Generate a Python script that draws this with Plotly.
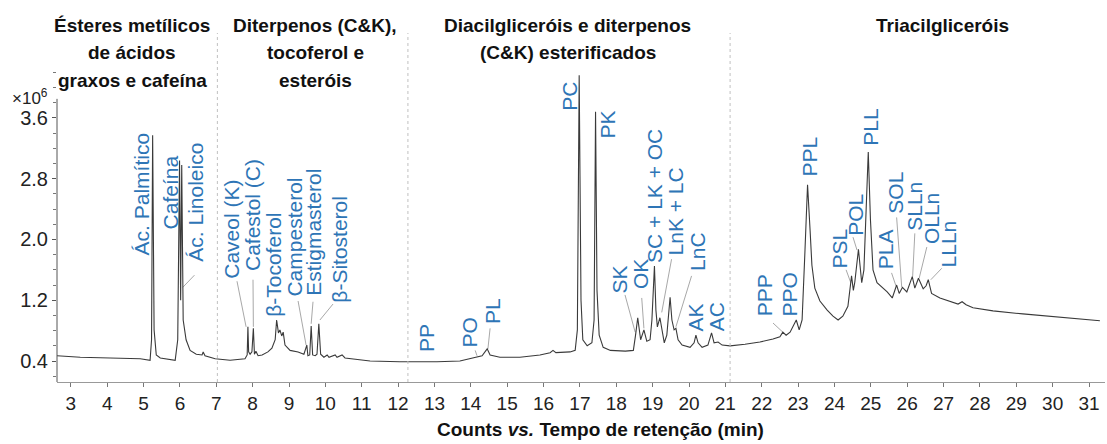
import plotly.graph_objects as go

# ---------------- data (retention time in min, counts in 10^6) ----------------
rt_min = [2.62, 3.26, 4.08, 4.91, 5.18, 5.22, 5.25, 5.29, 5.35, 5.46, 5.87, 5.94, 5.99, 6.02,
          6.05, 6.09, 6.17, 6.28, 6.45, 6.61, 6.64, 6.69, 6.97, 7.38, 7.79, 7.85, 7.87, 7.89,
          7.93, 7.98, 8.02, 8.05, 8.09, 8.15, 8.26, 8.42, 8.53, 8.62, 8.66, 8.71, 8.75, 8.80,
          8.84, 8.89, 9.03, 9.25, 9.41, 9.49, 9.52, 9.57, 9.61, 9.65, 9.72, 9.77, 9.82, 9.87,
          9.96, 10.05, 10.10, 10.27, 10.32, 10.46, 10.54, 11.23, 12.05, 13.07, 13.70, 14.14,
          14.31, 14.45, 14.53, 14.80, 15.35, 15.90, 16.18, 16.26, 16.34, 16.73, 16.87, 16.93,
          16.98, 17.03, 17.08, 17.20, 17.33, 17.39, 17.43, 17.47, 17.53, 17.64, 17.84, 18.25,
          18.47, 18.53, 18.59, 18.67, 18.76, 18.84, 18.93, 18.98, 19.05, 19.09, 19.13, 19.20,
          19.32, 19.39, 19.48, 19.53, 19.59, 19.64, 19.70, 19.81, 20.03, 20.14, 20.19, 20.25,
          20.36, 20.52, 20.62, 20.69, 20.80, 20.91, 21.13, 21.54, 21.95, 22.31, 22.50, 22.58,
          22.67, 22.78, 22.86, 22.95, 23.03, 23.11, 23.19, 23.26, 23.33, 23.38, 23.46, 23.60,
          23.80, 23.96, 24.10, 24.23, 24.37, 24.47, 24.52, 24.56, 24.66, 24.75, 24.81, 24.87,
          24.93, 24.99, 25.06, 25.17, 25.26, 25.45, 25.59, 25.71, 25.78, 25.87, 25.99, 26.05,
          26.14, 26.21, 26.31, 26.44, 26.52, 26.58, 26.67, 26.90, 27.18, 27.40, 27.51, 27.62,
          27.81, 28.36, 29.18, 30.12, 31.30]
counts_1e6 = [0.47, 0.45, 0.44, 0.43, 0.41, 0.68, 3.37, 0.81, 0.48, 0.44, 0.41, 0.68, 3.04, 1.20,
              2.98, 0.94, 0.68, 0.54, 0.49, 0.48, 0.52, 0.47, 0.43, 0.41, 0.43, 0.48, 0.85, 0.52,
              0.49, 0.52, 0.83, 0.49, 0.53, 0.47, 0.48, 0.52, 0.57, 0.68, 0.94, 0.77, 0.81, 0.73,
              0.78, 0.61, 0.54, 0.52, 0.49, 0.61, 0.47, 0.48, 0.86, 0.48, 0.47, 0.49, 0.89, 0.49,
              0.45, 0.48, 0.45, 0.48, 0.45, 0.48, 0.44, 0.40, 0.39, 0.39, 0.40, 0.45,
              0.47, 0.56, 0.48, 0.45, 0.45, 0.48, 0.51, 0.54, 0.51, 0.52, 0.54, 0.81,
              4.16, 1.20, 0.68, 0.60, 0.64, 0.94, 3.68, 1.33, 0.74, 0.58, 0.54, 0.53,
              0.54, 0.74, 0.97, 0.68, 0.81, 0.66, 0.68, 0.94, 1.65, 1.07, 0.85, 0.97,
              0.64, 0.74, 1.24, 0.94, 0.81, 0.83, 0.68, 0.61, 0.58, 0.64, 0.74, 0.64,
              0.58, 0.61, 0.77, 0.64, 0.65, 0.61, 0.60, 0.62, 0.65, 0.69, 0.72, 0.78,
              0.74, 0.78, 0.85, 0.94, 0.81, 0.94, 1.86, 2.72, 2.12, 1.66, 1.36, 1.19,
              1.07, 0.99, 0.94, 0.99, 1.12, 1.52, 1.33, 1.44, 1.87, 1.43, 1.60, 2.52,
              3.15, 2.26, 1.60, 1.43, 1.39, 1.31, 1.23, 1.40, 1.29, 1.37, 1.31, 1.40,
              1.51, 1.36, 1.49, 1.35, 1.39, 1.47, 1.29, 1.23, 1.18, 1.15, 1.18, 1.14,
              1.10, 1.06, 1.02, 0.98, 0.93]

# peak labels: text, label centre (min), label bottom (10^6 counts)
peak_names = ["Ác. Palmítico", "Cafeína", "Ác. Linoleico", "Caveol (K)", "Cafestol (C)",
              "β-Tocoferol", "Campesterol", "Estigmasterol", "β-Sitosterol", "PP", "PO", "PL",
              "PC", "PK", "SK", "OK", "SC + LK + OC", "LnK + LC", "LnC", "AK", "AC", "PPP",
              "PPO", "PPL", "PSL", "POL", "PLL", "PLA", "SOL", "SLLn", "OLLn", "LLLn"]
label_rt = [4.93, 5.73, 6.42, 7.42, 7.98, 8.59, 9.14, 9.69, 10.40, 12.78, 13.96, 14.60,
            16.71, 17.76, 18.09, 18.67, 19.07, 19.63, 20.23, 20.18, 20.76, 22.08,
            22.79, 23.31, 24.14, 24.58, 24.99, 25.40, 25.68, 26.20, 26.65, 27.14]
label_base = [1.77, 2.12, 1.69, 1.47, 1.57, 0.97, 1.23, 1.24, 1.16, 0.51, 0.57, 0.87,
              3.68, 3.31, 1.27, 1.33, 1.68, 1.77, 1.57, 0.77, 0.78, 0.97,
              0.98, 2.82, 1.60, 2.03, 3.22, 1.60, 2.32, 2.10, 1.93, 1.62]

# leader lines from label to peak (rt0, y0, rt1, y1)
leader_rt0 = [6.40, 7.57, 8.01, 9.25, 9.66, 10.21, 14.12, 14.53, 18.24, 18.70, 19.52, 20.07,
              22.31, 24.32, 24.51, 25.57, 25.71, 26.21, 26.54, 26.95]
leader_y0 = [1.53, 1.45, 1.47, 1.19, 1.18, 1.15, 0.54, 0.83, 1.27, 1.23, 1.74, 1.52,
             0.90, 1.60, 2.03, 1.56, 2.29, 2.08, 1.90, 1.62]
leader_rt1 = [6.08, 7.82, 8.02, 9.47, 9.61, 9.85, 14.17, 14.47, 18.52, 18.76, 19.25, 19.64,
              22.58, 24.45, 24.62, 25.69, 25.85, 26.15, 26.33, 26.65]
leader_y1 = [1.37, 0.85, 0.85, 0.61, 0.89, 0.94, 0.47, 0.56, 0.78, 0.83, 1.04, 0.85,
             0.78, 1.43, 1.86, 1.39, 1.37, 1.51, 1.49, 1.47]

# section headers
section_lines = [["Ésteres metílicos", "de ácidos", "graxos e cafeína"],
                 ["Diterpenos (C&K),", "tocoferol e", "esteróis"],
                 ["Diacilgliceróis e diterpenos", "(C&K) esterificados"],
                 ["Triacilgliceróis"]]
section_rt = [4.69, 9.72, 16.67, 26.96]
separator_rt = [7.03, 12.27, 21.13]

x_ticks = list(range(3, 32))
y_major = [0.4, 1.2, 2.0, 2.8, 3.6]
y_major_text = ["0.4", "1.2", "2.0", "2.8", "3.6"]

# ---------------- figure ----------------
FONT = "Liberation Sans, Arial, sans-serif"
BLUE = "#2E75B6"
W, H = 1107, 444
ML, MR, MT, MB = 57, 2, 70, 62
PH = H - MT - MB

fig = go.Figure()

lx, ly = [], []
for a, b, c, d in zip(leader_rt0, leader_y0, leader_rt1, leader_y1):
    lx += [a, c, None]
    ly += [b, d, None]
fig.add_trace(go.Scatter(x=lx, y=ly, mode="lines", line=dict(color="#a8a8a8", width=1),
                         hoverinfo="skip", showlegend=False))

fig.add_trace(go.Scatter(x=rt_min, y=counts_1e6, mode="lines",
                         line=dict(color="#3a3a3a", width=1.1), showlegend=False))

annotations = []
for name, x, y in zip(peak_names, label_rt, label_base):
    annotations.append(dict(x=x, y=y, xref="x", yref="y", text=name, textangle=-90,
                            showarrow=False, xanchor="center", yanchor="bottom",
                            font=dict(family=FONT, size=21, color=BLUE), borderpad=0))

line_px = [25, 53, 80]
for lines, x in zip(section_lines, section_rt):
    for i, t in enumerate(lines):
        annotations.append(dict(x=x, y=(H - MB - line_px[i]) / PH, xref="x", yref="paper",
                                text="<b>" + t + "</b>", showarrow=False, xanchor="center",
                                yanchor="middle", font=dict(family=FONT, size=19, color="#111")))

annotations.append(dict(x=(30 - ML) / (W - ML - MR), y=(H - MB - 97) / PH, xref="paper",
                        yref="paper", text="×10<sup>6</sup>", showarrow=False,
                        xanchor="center", yanchor="middle",
                        font=dict(family=FONT, size=17, color="#222")))
annotations.append(dict(x=(600 - ML) / (W - ML - MR), y=(H - MB - 429) / PH, xref="paper",
                        yref="paper", text="<b>Counts <i>vs.</i> Tempo de retenção (min)</b>",
                        showarrow=False, xanchor="center", yanchor="middle",
                        font=dict(family=FONT, size=19, color="#111")))

shapes = []
for s in separator_rt:
    shapes.append(dict(type="line", xref="x", yref="paper", x0=s, x1=s, y0=0,
                       y1=(H - MB - 33) / PH, line=dict(color="#c0c0c0", width=1, dash="dot")))
shapes.append(dict(type="line", xref="paper", yref="y", x0=0, x1=0, y0=0.124, y1=3.85,
                   line=dict(color="#555", width=1)))

fig.update_layout(
    width=W, height=H, margin=dict(l=ML, r=MR, t=MT, b=MB),
    paper_bgcolor="white", plot_bgcolor="white",
    annotations=annotations, shapes=shapes,
    xaxis=dict(range=[2.62, 31.44], tickvals=x_ticks, ticks="outside", ticklen=4,
               tickcolor="#777", showline=True, linecolor="#999", linewidth=1,
               showgrid=False, zeroline=False,
               tickfont=dict(family=FONT, size=19, color="#222")),
    yaxis=dict(range=[0.124, 4.23], tickvals=y_major, ticktext=y_major_text,
               ticks="outside", ticklen=4, tickcolor="#555", showline=False,
               showgrid=False, zeroline=False,
               tickfont=dict(family=FONT, size=20, color="#222"),
               minor=dict(tick0=0.2, dtick=0.2, ticks="outside", ticklen=3,
                          tickcolor="#777", showgrid=False)),
)

fig.write_html("out.html")
